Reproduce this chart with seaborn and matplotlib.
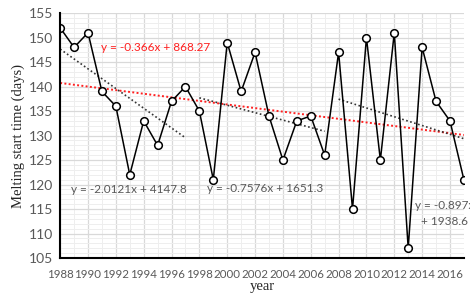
import numpy as np
import pandas as pd
import matplotlib.pyplot as plt
import seaborn as sns
from matplotlib.ticker import MultipleLocator

# melting start time
years = list(range(1988, 2018))
days = [152, 148, 151, 139, 136, 122, 133, 128, 137, 140,
        135, 121, 149, 139, 147, 134, 125, 133, 134, 126,
        147, 115, 150, 125, 151, 107, 148, 137, 133, 121]

# trend periods
periods = [(1988, 1997), (1998, 2007), (2008, 2017)]
eq_labels = ["y = -2.0121x + 4147.8", "y = -0.7576x + 1651.3", "y = -0.897x\n+ 1938.6"]
overall_label = "y = -0.366x + 868.27"

df = pd.DataFrame({"year": years, "days": days})

sns.set_style("white")
plt.rcParams["font.family"] = ["Lato", "DejaVu Sans"]

fig = plt.figure(figsize=(4.7, 2.98), dpi=100)
ax = fig.add_axes([0.128, 0.134, 0.859, 0.822])

# grids
ax.xaxis.set_major_locator(MultipleLocator(2))
ax.xaxis.set_minor_locator(MultipleLocator(1))
ax.yaxis.set_major_locator(MultipleLocator(5))
ax.yaxis.set_minor_locator(MultipleLocator(1))
ax.grid(which="major", color="#d9d9d9", lw=0.9)
ax.grid(which="minor", color="#eeeeee", lw=0.7)
ax.set_axisbelow(True)

# overall trend
sns.regplot(data=df, x="year", y="days", ax=ax, scatter=False, ci=None,
            line_kws=dict(color="#ff2020", ls=(0, (1, 1.2)), lw=1.4))

# period trends
for (a, b) in periods:
    sub = df[(df.year >= a) & (df.year <= b)]
    sns.regplot(data=sub, x="year", y="days", ax=ax, scatter=False, ci=None,
                line_kws=dict(color="#333333", ls=(0, (1, 1.5)), lw=1.2))

sns.lineplot(data=df, x="year", y="days", ax=ax, color="black", lw=1.1,
             marker="o", markersize=5.5, markerfacecolor="white",
             markeredgecolor="black", markeredgewidth=1.1)

ax.set_xlim(1988, 2017)
ax.set_ylim(105, 155)

for s in ["top", "right"]:
    ax.spines[s].set_visible(False)
for s in ["left", "bottom"]:
    ax.spines[s].set_color("black")
    ax.spines[s].set_linewidth(1.5)

ax.tick_params(axis="x", which="both", direction="in", length=3, width=1,
               color="black", labelsize=8.3, labelcolor="#595959", pad=8)
ax.tick_params(axis="y", which="major", direction="out", length=3, width=1,
               color="black", labelsize=10, labelcolor="#595959", pad=2)
ax.tick_params(axis="y", which="minor", length=0)

ax.set_xlabel("year", family="Liberation Serif", fontsize=10.5, labelpad=0)
ax.set_ylabel("Melting start time (days)", family="Liberation Serif",
              fontsize=10.5, labelpad=3)

# equations
ax.text(1990.9, 147.9, overall_label, color="#ff2020", fontsize=8.5, va="center")
ax.text(1988.8, 118.9, eq_labels[0], color="#595959", fontsize=8.5, va="center")
ax.text(1998.55, 119.3, eq_labels[1], color="#595959", fontsize=8.5, va="center")
ax.text(2015.6, 114.1, eq_labels[2], color="#595959", fontsize=8.5,
        ha="center", va="center", linespacing=1.5, clip_on=False)

fig.savefig("out.png", dpi=100)
